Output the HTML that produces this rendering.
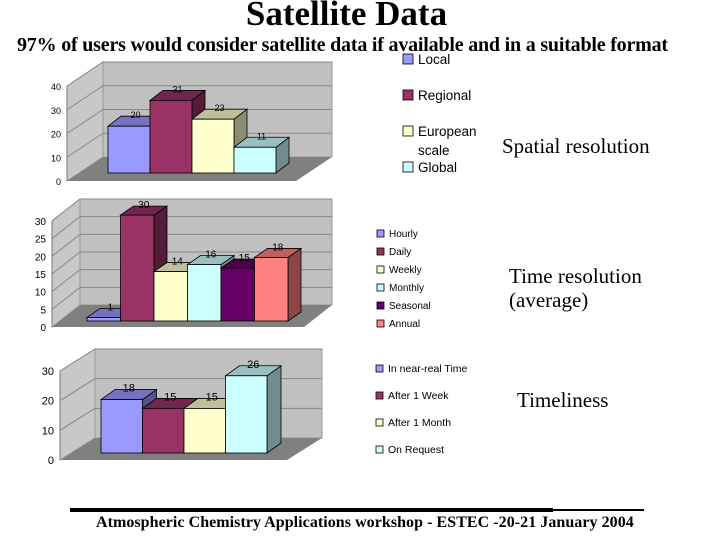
<!DOCTYPE html>
<html><head><meta charset="utf-8"><style>
body{margin:0;background:#fff;width:720px;height:540px;overflow:hidden;position:relative;font-family:"Liberation Serif",serif}
.t{position:absolute;white-space:nowrap;line-height:1.15}
</style></head><body>
<div class="t" style="left:0;width:693px;text-align:center;top:-6px;font-size:35px;font-weight:bold">Satellite Data</div>
<div class="t" style="left:17px;top:34px;font-size:20px;font-weight:bold;letter-spacing:-0.2px">97% of users would consider satellite data if available and in a suitable format</div>
<div class="t" style="left:502px;top:134px;font-size:21px">Spatial resolution</div>
<div class="t" style="left:509px;top:264px;font-size:21px;line-height:24px">Time resolution<br>(average)</div>
<div class="t" style="left:517px;top:388px;font-size:21px">Timeliness</div>
<svg width="720" height="540" style="position:absolute;left:0;top:0" id="svg">
<rect x="70" y="508" width="483" height="4" fill="#000"/>
<rect x="553" y="509" width="91" height="2" fill="#000"/>
</svg>
<div class="t" style="left:96px;top:514px;font-size:16px;font-weight:bold;letter-spacing:0.05px">Atmospheric Chemistry Applications workshop - ESTEC -20-21 January 2004</div>
<script>
const spatialCats=["Local","Regional","European scale","Global"];
const spatialVals=[20,31,23,11];
const spatialTicks=[0,10,20,30,40];
const timeCats=["Hourly","Daily","Weekly","Monthly","Seasonal","Annual"];
const timeVals=[1,30,14,16,15,18];
const timeTicks=[0,5,10,15,20,25,30];
const timelyCats=["In near-real Time","After 1 Week","After 1 Month","On Request"];
const timelyVals=[18,15,15,26];
const timelyTicks=[0,10,20,30];

const svg=document.getElementById('svg');
const NS='http://www.w3.org/2000/svg';
function mk(tag,attrs,name){const e=document.createElementNS(NS,tag);for(const k in attrs)e.setAttribute(k,attrs[k]);


svg.appendChild(e);return e;}
function shade(hex,f){const n=parseInt(hex.slice(1),16);let r=(n>>16)&255,g=(n>>8)&255,b=n&255;r=Math.round(r*f);g=Math.round(g*f);b=Math.round(b*f);return `rgb(${r},${g},${b})`;}

function chart(c){
  const y=v=>c.y0-(v/c.max)*(c.y0-c.yTop);
  const D=c.D, dy=c.Dy;
  const bx0=c.ax+D, by0=c.y0+dy, byT=c.yTop+dy;
  mk('polygon',{points:`${bx0},${byT} ${c.wallR},${byT} ${c.wallR},${by0} ${bx0},${by0}`,fill:'#c0c0c0',stroke:'#999'},c.id+'-back-wall');
  mk('polygon',{points:`${c.ax},${c.yTop} ${bx0},${byT} ${bx0},${by0} ${c.ax},${c.y0}`,fill:'#c8c8c8',stroke:'#999'},c.id+'-side-wall');
  mk('polygon',{points:`${c.ax},${c.y0} ${bx0},${by0} ${c.wallR},${by0} ${c.wallR-D},${c.y0}`,fill:'#808080'},c.id+'-floor');
  c.ticks.forEach(t=>{const yy=y(t);
    if(t>0){mk('line',{x1:c.ax,y1:yy,x2:bx0,y2:yy+dy,stroke:'#888'},c.id+'-grid-side');
    mk('line',{x1:bx0,y1:yy+dy,x2:c.wallR,y2:yy+dy,stroke:'#888'},c.id+'-grid-back');}
    const tx=mk('text',{x:c.ax-6,y:yy+4,'text-anchor':'end','font-size':c.fs,'font-family':'Liberation Sans, sans-serif'},c.id+'-y-tick');tx.textContent=t;});
  mk('line',{x1:c.ax,y1:c.yTop,x2:c.ax,y2:c.y0,stroke:'#777'},c.id+'-y-axis');
  const bd=c.bd, bdy=c.bdy;
  c.vals.forEach((v,i)=>{
    const x0=c.bx+i*c.bw, x1=x0+c.bw, top=c.by-v*c.k, col=c.colors[i];
    mk('polygon',{points:`${x1},${top} ${x1+bd},${top+bdy} ${x1+bd},${c.by+bdy} ${x1},${c.by}`,fill:shade(col,0.55),stroke:'#000','stroke-width':0.8},c.id+'-bar-side-'+i);
    mk('polygon',{points:`${x0},${top} ${x0+bd},${top+bdy} ${x1+bd},${top+bdy} ${x1},${top}`,fill:shade(col,0.75),stroke:'#000','stroke-width':0.8},c.id+'-bar-top-'+i);
    mk('rect',{x:x0,y:top,width:c.bw,height:v*c.k,fill:col,stroke:'#000','stroke-width':0.8},c.id+'-bar-'+i);
    const tx=mk('text',{x:x0+c.bw/2+bd/2,y:top+bdy+2,'text-anchor':'middle','font-size':c.fs,'font-family':'Liberation Sans, sans-serif'},c.id+'-value-label');tx.textContent=v;
  });
  c.cats.forEach((n,i)=>{const ly=c.ly+i*c.lgap;
    mk('rect',{x:c.lx,y:ly-c.ls,width:c.ls,height:c.ls,fill:c.colors[i],stroke:'#000','stroke-width':0.8},c.id+'-legend-swatch');
    const tx=mk('text',{x:c.lx+c.ls+5,y:ly,'font-size':c.lfs,'font-family':'Liberation Sans, sans-serif'},c.id+'-legend-entry');
    if(n==="European scale"){tx.textContent="European";const t2=mk('text',{x:c.lx+c.ls+5,y:ly+19,'font-size':c.lfs,'font-family':'Liberation Sans, sans-serif'},c.id+'-legend-entry');t2.textContent="scale";}
    else tx.textContent=n;});
}
chart({id:'spatial',vals:spatialVals,cats:spatialCats,ticks:spatialTicks,max:40,ax:67,y0:181,yTop:86,D:36,Dy:-24,wallR:332,
  bx:108,bw:42,by:173,k:2.34,bd:13,bdy:-10,fs:9,colors:['#9999ff','#993366','#ffffcc','#ccffff'],
  lx:403,ly:64,lgap:36,ls:10,lfs:13.5});
chart({id:'time',vals:timeVals,cats:timeCats,ticks:timeTicks,max:30,ax:52,y0:327,yTop:221,D:28,Dy:-22,wallR:332,
  bx:87,bw:33.5,by:321,k:3.53,bd:13,bdy:-9,fs:10,colors:['#9999ff','#993366','#ffffcc','#ccffff','#660066','#ff8080'],
  lx:377,ly:237,lgap:18,ls:7,lfs:10});
chart({id:'timely',vals:timelyVals,cats:timelyCats,ticks:timelyTicks,max:30,ax:60,y0:460,yTop:371,D:35,Dy:-22,wallR:322,
  bx:101,bw:41.5,by:453,k:2.97,bd:14,bdy:-10,fs:11,colors:['#9999ff','#993366','#ffffcc','#ccffff'],
  lx:376,ly:372,lgap:27,ls:7,lfs:10.5});
</script>
</body></html>
